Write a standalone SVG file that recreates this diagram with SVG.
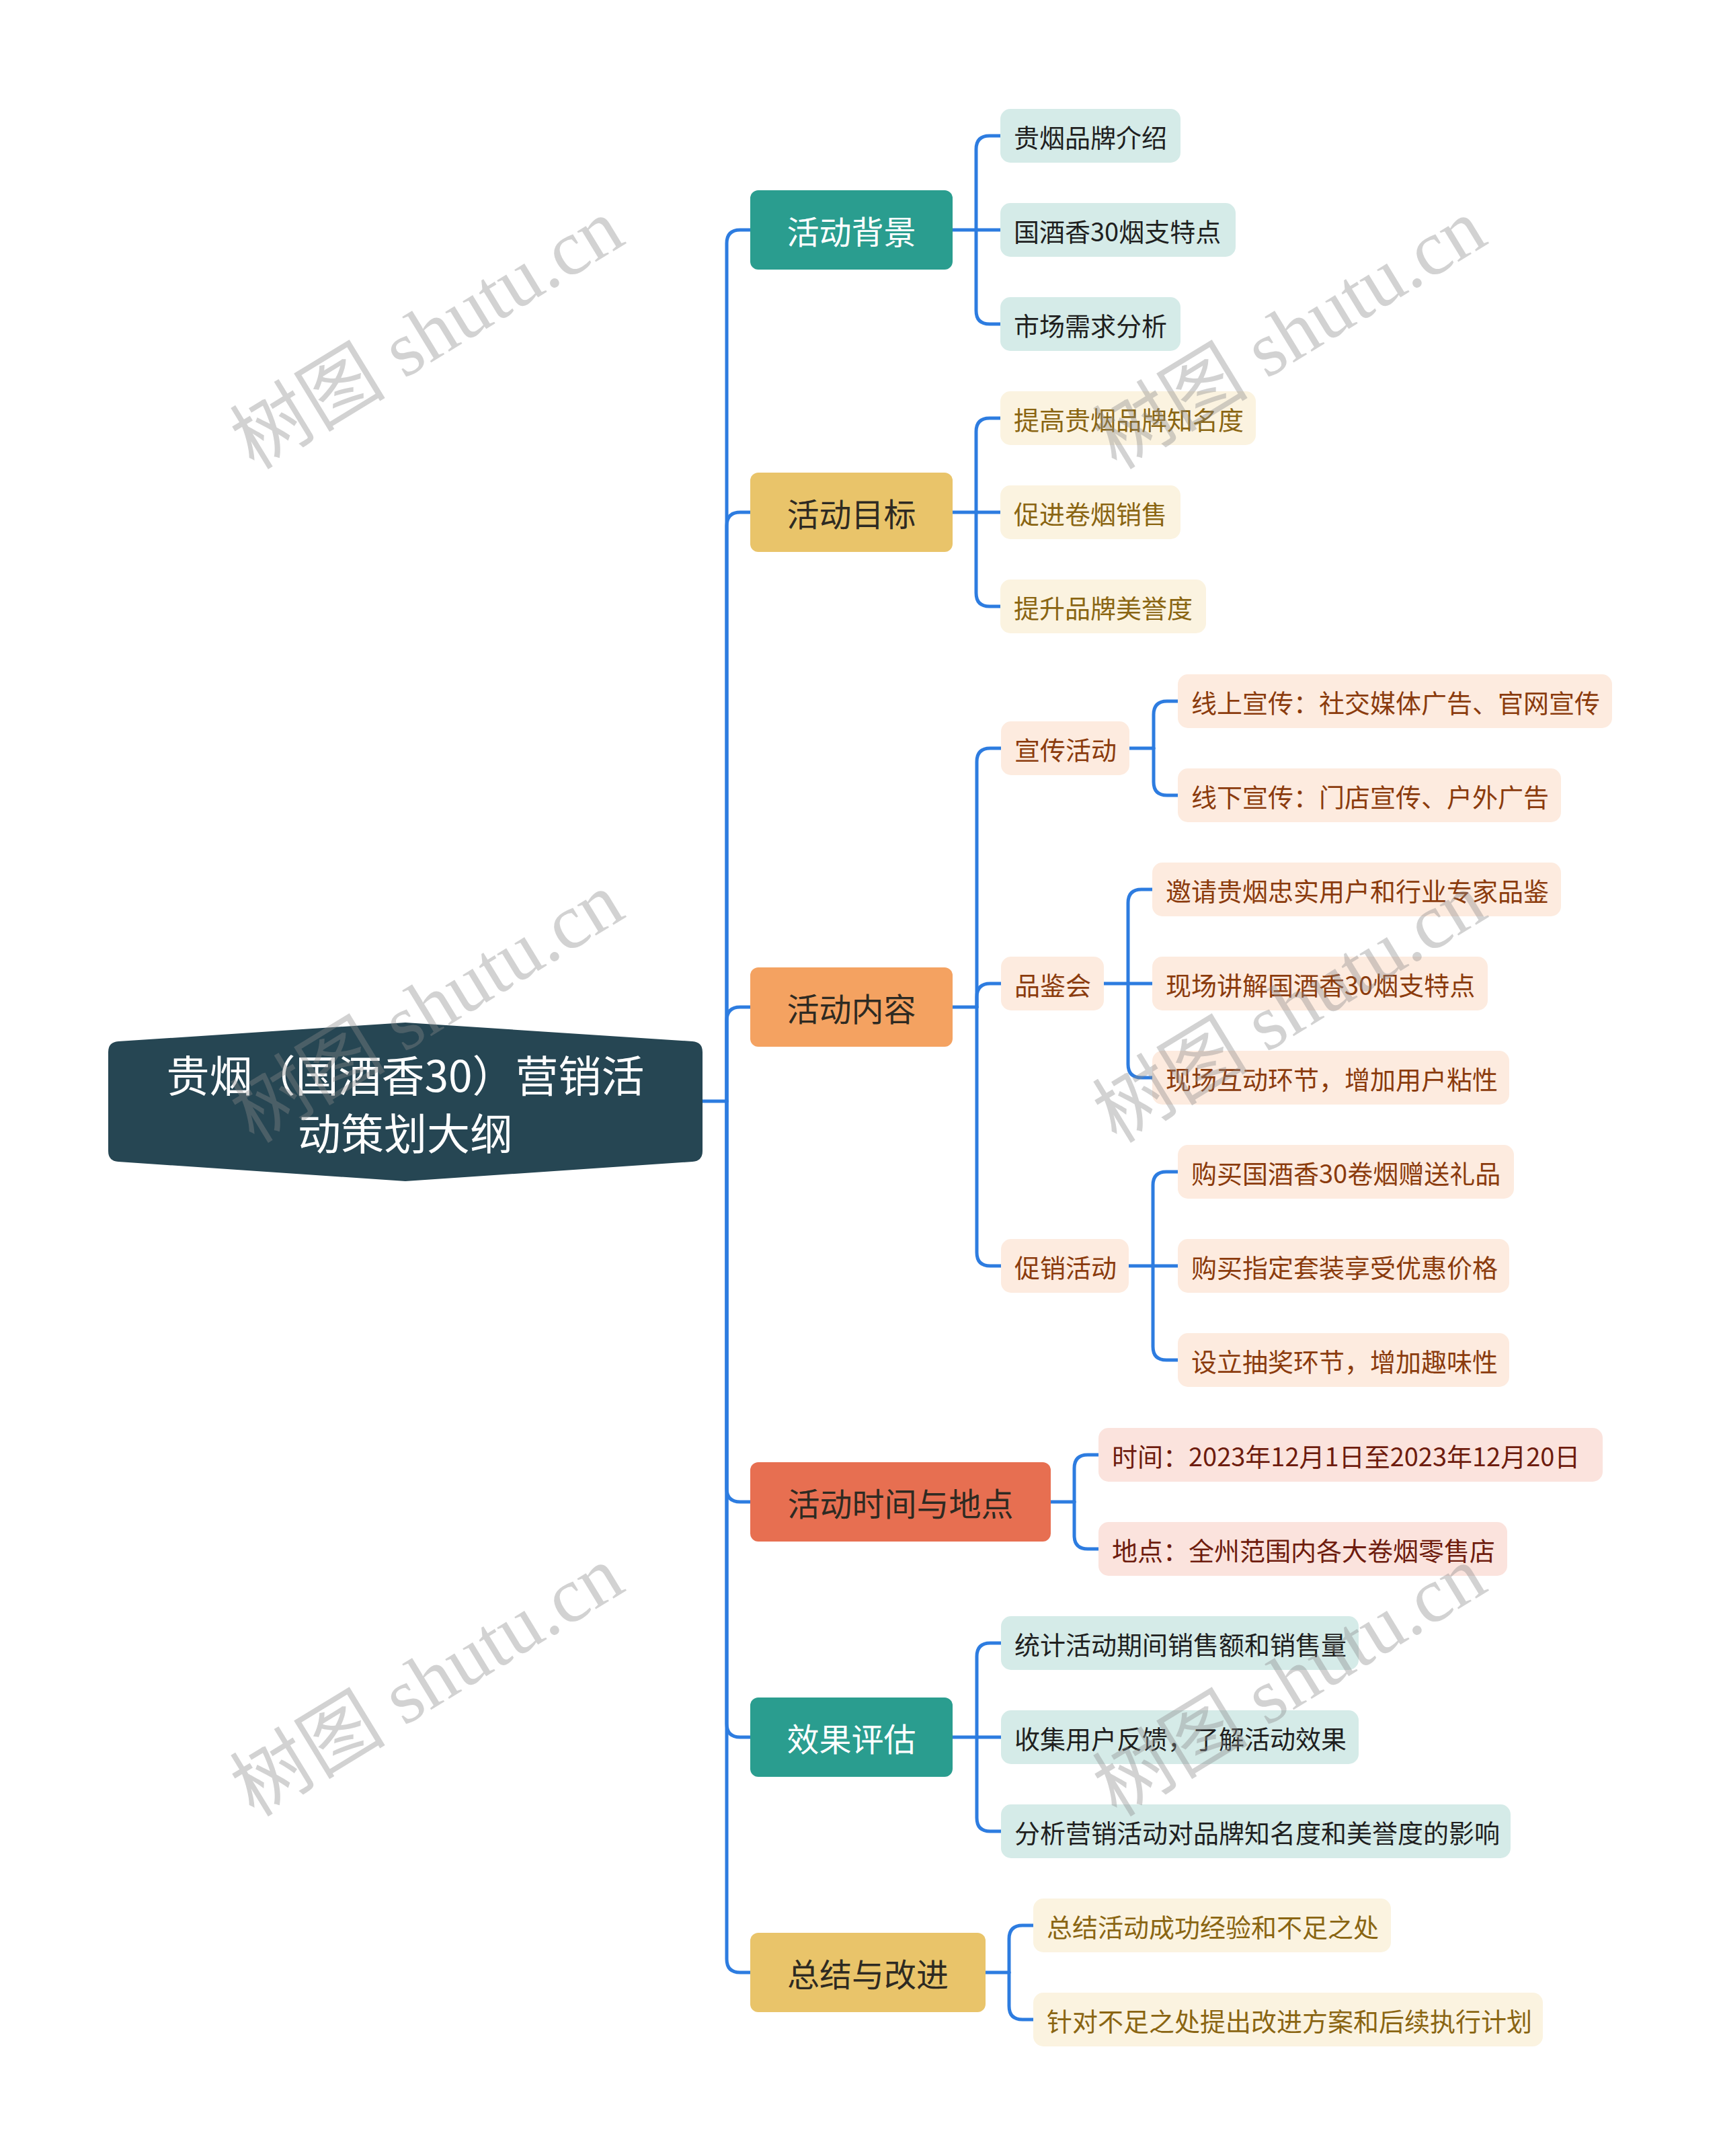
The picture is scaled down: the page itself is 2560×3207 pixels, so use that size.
<svg xmlns="http://www.w3.org/2000/svg" width="2560" height="3207" viewBox="0 0 2560 3207">
<style>
.t{font-family:"Noto Sans CJK SC","Noto Sans",sans-serif;dominant-baseline:central}
.l1{font-size:48px;text-anchor:middle}
.c{font-size:38px}
.w{fill:#ffffff}
.dk{fill:#2e2a22}
.tealc rect{fill:#d5ebe8}.tealc text{fill:#1f1f1f}
.goldc rect{fill:#fbf3e0}.goldc text{fill:#8a6512}
.orc rect{fill:#fdebdf}.orc text{fill:#8b3b0d}
.corc rect{fill:#fbe3dd}.corc text{fill:#6e1c0e}
.lk{fill:none;stroke:#2d7ce0;stroke-width:5;stroke-linecap:round;stroke-linejoin:round}
.wm{font-family:"Liberation Serif","Noto Sans CJK SC",serif;font-size:116px;fill:#8a8a8a;fill-opacity:0.38}
</style>
<rect width="2560" height="3207" fill="#ffffff"/>
<g id="connectors" class="lk">
<path d="M1045,1638 H1081"/>
<path d="M1081,1638 V362 Q1081,342 1101,342 H1116"/>
<path d="M1081,1638 V782 Q1081,762 1101,762 H1116"/>
<path d="M1081,1638 V1518 Q1081,1498 1101,1498 H1116"/>
<path d="M1081,1638 V2214 Q1081,2234 1101,2234 H1116"/>
<path d="M1081,1638 V2564 Q1081,2584 1101,2584 H1116"/>
<path d="M1081,1638 V2914 Q1081,2934 1101,2934 H1116"/>
<path d="M1417,342 H1488"/>
<path d="M1452,342 V222 Q1452,202 1472,202 H1488"/>
<path d="M1452,342 V462 Q1452,482 1472,482 H1488"/>
<path d="M1417,762 H1488"/>
<path d="M1452,762 V642 Q1452,622 1472,622 H1488"/>
<path d="M1452,762 V882 Q1452,902 1472,902 H1488"/>
<path d="M1417,1498 H1453"/>
<path d="M1453,1498 V1133 Q1453,1113 1473,1113 H1489"/>
<path d="M1453,1498 V1483 Q1453,1463 1473,1463 H1489"/>
<path d="M1453,1498 V1863 Q1453,1883 1473,1883 H1489"/>
<path d="M1680,1113 H1716"/>
<path d="M1716,1113 V1063 Q1716,1043 1736,1043 H1752"/>
<path d="M1716,1113 V1163 Q1716,1183 1736,1183 H1752"/>
<path d="M1642,1463 H1714"/>
<path d="M1678,1463 V1343 Q1678,1323 1698,1323 H1714"/>
<path d="M1678,1463 V1583 Q1678,1603 1698,1603 H1714"/>
<path d="M1679,1883 H1752"/>
<path d="M1715,1883 V1763 Q1715,1743 1735,1743 H1752"/>
<path d="M1715,1883 V2003 Q1715,2023 1735,2023 H1752"/>
<path d="M1563,2234 H1598"/>
<path d="M1598,2234 V2184 Q1598,2164 1618,2164 H1634"/>
<path d="M1598,2234 V2284 Q1598,2304 1618,2304 H1634"/>
<path d="M1417,2584 H1489"/>
<path d="M1453,2584 V2464 Q1453,2444 1473,2444 H1489"/>
<path d="M1453,2584 V2704 Q1453,2724 1473,2724 H1489"/>
<path d="M1466,2934 H1501"/>
<path d="M1501,2934 V2884 Q1501,2864 1521,2864 H1537"/>
<path d="M1501,2934 V2984 Q1501,3004 1521,3004 H1537"/>
</g>
<g id="root">
<path d="M603,1521 L1030,1549 Q1045,1550 1045,1565 L1045,1712 Q1045,1727 1030,1728 L603,1757 L176,1728 Q161,1727 161,1712 L161,1565 Q161,1550 176,1549 Z" fill="#264653"/>
<text class="t w" x="603" y="1596" font-size="64" text-anchor="middle">贵烟（国酒香30）营销活</text>
<text class="t w" x="603" y="1682" font-size="64" text-anchor="middle">动策划大纲</text>
</g>
<g id="n1"><rect x="1116" y="283" width="301" height="118" rx="12" fill="#2a9d8f"/><text class="t l1 w" x="1266.5" y="342">活动背景</text></g>
<g id="n2"><rect x="1116" y="703" width="301" height="118" rx="12" fill="#e9c46a"/><text class="t l1 dk" x="1266.5" y="762">活动目标</text></g>
<g id="n3"><rect x="1116" y="1439" width="301" height="118" rx="12" fill="#f4a261"/><text class="t l1 dk" x="1266.5" y="1498">活动内容</text></g>
<g id="n4"><rect x="1116" y="2175" width="447" height="118" rx="12" fill="#e76f51"/><text class="t l1 dk" x="1339.5" y="2234">活动时间与地点</text></g>
<g id="n5"><rect x="1116" y="2525" width="301" height="118" rx="12" fill="#2a9d8f"/><text class="t l1 w" x="1266.5" y="2584">效果评估</text></g>
<g id="n6"><rect x="1116" y="2875" width="350" height="118" rx="12" fill="#e9c46a"/><text class="t l1 dk" x="1291" y="2934">总结与改进</text></g>
<g class="tealc">
<g id="n1a"><rect x="1488" y="162" width="268" height="80" rx="15"/><text class="t c" x="1508" y="202">贵烟品牌介绍</text></g>
<g id="n1b"><rect x="1488" y="302" width="350" height="80" rx="15"/><text class="t c" x="1508" y="342">国酒香30烟支特点</text></g>
<g id="n1c"><rect x="1488" y="442" width="268" height="80" rx="15"/><text class="t c" x="1508" y="482">市场需求分析</text></g>
<g id="n5a"><rect x="1489" y="2404" width="532" height="80" rx="15"/><text class="t c" x="1509" y="2444">统计活动期间销售额和销售量</text></g>
<g id="n5b"><rect x="1489" y="2544" width="532" height="80" rx="15"/><text class="t c" x="1509" y="2584">收集用户反馈，了解活动效果</text></g>
<g id="n5c"><rect x="1489" y="2684" width="758" height="80" rx="15"/><text class="t c" x="1509" y="2724">分析营销活动对品牌知名度和美誉度的影响</text></g>
</g>
<g class="goldc">
<g id="n2a"><rect x="1488" y="582" width="380" height="80" rx="15"/><text class="t c" x="1508" y="622">提高贵烟品牌知名度</text></g>
<g id="n2b"><rect x="1488" y="722" width="268" height="80" rx="15"/><text class="t c" x="1508" y="762">促进卷烟销售</text></g>
<g id="n2c"><rect x="1488" y="862" width="306" height="80" rx="15"/><text class="t c" x="1508" y="902">提升品牌美誉度</text></g>
<g id="n6a"><rect x="1537" y="2824" width="532" height="80" rx="15"/><text class="t c" x="1557" y="2864">总结活动成功经验和不足之处</text></g>
<g id="n6b"><rect x="1537" y="2964" width="758" height="80" rx="15"/><text class="t c" x="1557" y="3004">针对不足之处提出改进方案和后续执行计划</text></g>
</g>
<g class="orc">
<g id="n3a"><rect x="1489" y="1073" width="191" height="80" rx="15"/><text class="t c" x="1509" y="1113">宣传活动</text></g>
<g id="n3a1"><rect x="1752" y="1003" width="646" height="80" rx="15"/><text class="t c" x="1772" y="1043">线上宣传：社交媒体广告、官网宣传</text></g>
<g id="n3a2"><rect x="1752" y="1143" width="570" height="80" rx="15"/><text class="t c" x="1772" y="1183">线下宣传：门店宣传、户外广告</text></g>
<g id="n3b"><rect x="1489" y="1423" width="153" height="80" rx="15"/><text class="t c" x="1509" y="1463">品鉴会</text></g>
<g id="n3b1"><rect x="1714" y="1283" width="608" height="80" rx="15"/><text class="t c" x="1734" y="1323">邀请贵烟忠实用户和行业专家品鉴</text></g>
<g id="n3b2"><rect x="1714" y="1423" width="499" height="80" rx="15"/><text class="t c" x="1734" y="1463">现场讲解国酒香30烟支特点</text></g>
<g id="n3b3"><rect x="1714" y="1563" width="531" height="80" rx="15"/><text class="t c" x="1734" y="1603">现场互动环节，增加用户粘性</text></g>
<g id="n3c"><rect x="1489" y="1843" width="190" height="80" rx="15"/><text class="t c" x="1509" y="1883">促销活动</text></g>
<g id="n3c1"><rect x="1752" y="1703" width="500" height="80" rx="15"/><text class="t c" x="1772" y="1743">购买国酒香30卷烟赠送礼品</text></g>
<g id="n3c2"><rect x="1752" y="1843" width="493" height="80" rx="15"/><text class="t c" x="1772" y="1883">购买指定套装享受优惠价格</text></g>
<g id="n3c3"><rect x="1752" y="1983" width="493" height="80" rx="15"/><text class="t c" x="1772" y="2023">设立抽奖环节，增加趣味性</text></g>
</g>
<g class="corc">
<g id="n4a"><rect x="1634" y="2124" width="750" height="80" rx="15"/><text class="t c" x="1654" y="2164">时间：2023年12月1日至2023年12月20日</text></g>
<g id="n4b"><rect x="1634" y="2264" width="608" height="80" rx="15"/><text class="t c" x="1654" y="2304">地点：全州范围内各大卷烟零售店</text></g>
</g>
<g id="watermarks">
<text class="wm" transform="translate(378,700) rotate(-31.4)">树图 shutu.cn</text>
<text class="wm" transform="translate(1661,700) rotate(-31.4)">树图 shutu.cn</text>
<text class="wm" transform="translate(378,1702) rotate(-31.4)">树图 shutu.cn</text>
<text class="wm" transform="translate(1661,1702) rotate(-31.4)">树图 shutu.cn</text>
<text class="wm" transform="translate(378,2704) rotate(-31.4)">树图 shutu.cn</text>
<text class="wm" transform="translate(1661,2704) rotate(-31.4)">树图 shutu.cn</text>
</g>
</svg>
